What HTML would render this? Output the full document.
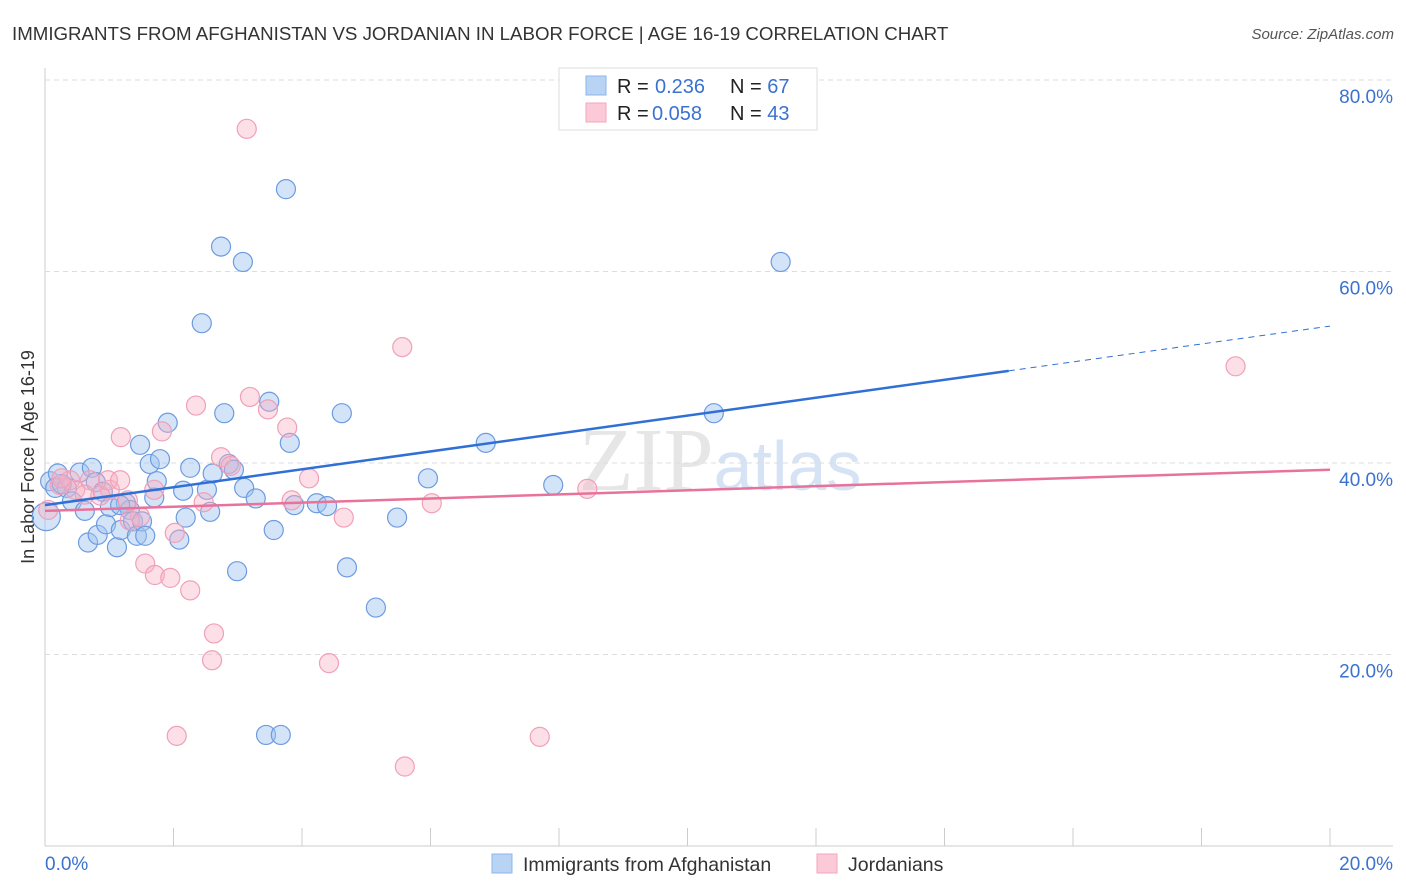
<!DOCTYPE html>
<html><head><meta charset="utf-8"><style>
body{margin:0;background:#fff;font-family:"Liberation Sans",sans-serif}
svg{display:block}
</style></head><body>
<svg id="c" width="1406" height="892">
<text x="12" y="40" font-size="18.7" fill="#333">IMMIGRANTS FROM AFGHANISTAN VS JORDANIAN IN LABOR FORCE | AGE 16-19 CORRELATION CHART</text>
<text x="1394" y="39" font-size="15" fill="#555" font-style="italic" text-anchor="end">Source: ZipAtlas.com</text>
<text x="720" y="490" font-size="90" fill="#e6e6e6" text-anchor="middle" font-family="Liberation Serif,serif">ZIP<tspan fill="#d5e3f5" font-family="Liberation Sans,sans-serif" font-size="70">atlas</tspan></text>
<text transform="translate(34,457) rotate(-90)" font-size="18" fill="#333" text-anchor="middle">In Labor Force | Age 16-19</text>
<g id="grid"></g><g id="marks"></g>
<g>
<rect x="559" y="68" width="258" height="62" fill="#fff" stroke="#ddd"/>
<rect x="586" y="76" width="20" height="19" fill="#b9d3f5" stroke="#8db5ea"/>
<rect x="586" y="103" width="20" height="19" fill="#fbc9d7" stroke="#f3a6bd"/>
<text x="617" y="93" font-size="20" fill="#222">R = <tspan fill="#3b72d0" x="655">0.236</tspan><tspan x="730" fill="#222">N = </tspan><tspan fill="#3b72d0">67</tspan></text>
<text x="617" y="120" font-size="20" fill="#222">R = <tspan fill="#3b72d0" x="652">0.058</tspan><tspan x="730" fill="#222">N = </tspan><tspan fill="#3b72d0">43</tspan></text>
</g>
<g>
<rect x="492" y="854" width="20" height="19" fill="#b9d3f5" stroke="#8db5ea"/>
<text x="523" y="871" font-size="19.5" fill="#333">Immigrants from Afghanistan</text>
<rect x="817" y="854" width="20" height="19" fill="#fbc9d7" stroke="#f3a6bd"/>
<text x="848" y="871" font-size="19.5" fill="#333">Jordanians</text>
</g>
</svg>
<script>
const yTicks=[20,40,60,80];
const xTickLabels=["0.0%","20.0%"];
const blueX=[.08,.2,.16,.34,.42,.54,.62,.67,.73,.79,.82,.9,.95,1.01,1.12,1.18,1.26,1.32,1.37,1.43,1.51,1.56,1.48,1.63,1.7,1.74,1.79,1.91,2.09,2.15,2.19,2.26,2.44,2.52,2.57,2.61,2.74,2.79,2.86,2.94,2.99,3.08,3.1,3.28,3.49,3.56,3.75,3.81,3.88,3.44,3.67,4.23,4.39,4.62,4.7,5.15,5.48,5.96,6.86,7.91,10.41,11.45,.26,1.17];
const blueY=[38.1,38.9,37.4,37.4,36.0,39.0,35.0,31.7,39.5,38.0,32.5,37.0,33.6,35.4,31.2,33.0,35.8,35.1,33.9,32.4,33.9,32.4,41.9,39.9,36.4,38.1,40.4,44.2,32.0,37.1,34.3,39.5,54.6,37.2,34.9,38.9,62.6,45.2,39.9,39.3,28.7,61.0,37.4,36.3,46.4,33.0,68.6,42.1,35.6,11.6,11.6,35.8,35.5,45.2,29.1,24.9,34.3,38.4,42.1,37.7,45.2,61.0,37.8,35.6];
const pinkX=[3.14,5.56,18.53,3.19,2.35,3.47,3.77,1.18,1.82,2.74,2.89,4.11,3.84,4.65,6.02,8.44,1.56,1.71,1.95,2.26,2.63,2.6,4.42,2.05,7.7,5.6,.23,.47,.7,1.01,1.29,1.48,1.7,2.02,2.47,.05,.86,1.32,.39,.98,.62,.26,1.17];
const pinkY=[74.9,52.1,50.1,46.9,46.0,45.6,43.7,42.7,43.3,40.6,39.7,38.4,36.1,34.3,35.8,37.3,29.5,28.3,28.0,26.7,22.2,19.4,19.1,11.5,11.4,8.3,37.7,37.2,38.2,37.2,36.1,34.4,37.2,32.7,35.9,35.1,36.6,34.0,38.2,38.2,36.7,38.4,38.2];
const blueLine=[35.6,54.3], blueSolidEnd=15.0;
const pinkLine=[35.0,39.3];
const bigX=[0.02], bigY=[34.4];

const NS="http://www.w3.org/2000/svg";
const X=v=>45+v/20*1285, Y=v=>846-v/80*766;
function mk(t,a,p){const e=document.createElementNS(NS,t);for(const k in a)e.setAttribute(k,a[k]);p.appendChild(e);return e;}
const g=document.getElementById('grid'), m=document.getElementById('marks');
mk('line',{x1:45,y1:68,x2:45,y2:846,stroke:'#ccc'},g);
mk('line',{x1:45,y1:846,x2:1393,y2:846,stroke:'#ccc'},g);
for(let i=0;i<=10;i++){const l=mk('line',{x1:X(i*2),y1:828,x2:X(i*2),y2:846,stroke:'#ccc'},g);

}
yTicks.forEach(v=>{const l=mk('line',{x1:45,y1:Y(v),x2:1393,y2:Y(v),stroke:'#ddd','stroke-dasharray':'5,4'},g);


const t=mk('text',{x:1393,y:Y(v)+23,'font-size':19,fill:'#3b72d0','text-anchor':'end'},g);t.textContent=v.toFixed(1)+'%';

});
xTickLabels.forEach((s,i)=>{const t=mk('text',{x:i?1393:45,y:870,'font-size':19,fill:'#3b72d0','text-anchor':i?'end':'start'},g);t.textContent=s;

});
blueX.forEach((x,i)=>{const c=mk('circle',{cx:X(x),cy:Y(blueY[i]),r:9.5,fill:'rgba(160,195,240,0.45)',stroke:'#6d9be0','stroke-width':1.2},m);

});
bigX.forEach((x,i)=>{const c=mk('circle',{cx:X(x),cy:Y(bigY[i]),r:14,fill:'rgba(160,195,240,0.45)',stroke:'#6d9be0','stroke-width':1.2},m);

});
pinkX.forEach((x,i)=>{const c=mk('circle',{cx:X(x),cy:Y(pinkY[i]),r:9.5,fill:'rgba(247,175,195,0.4)',stroke:'#f0a0b8','stroke-width':1.2},m);

});
const by=x=>blueLine[0]+(blueLine[1]-blueLine[0])*x/20;
let l=mk('line',{x1:X(0),y1:Y(by(0)),x2:X(blueSolidEnd),y2:Y(by(blueSolidEnd)),stroke:'#2f6fd6','stroke-width':2.5},m);


l=mk('line',{x1:X(blueSolidEnd),y1:Y(by(blueSolidEnd)),x2:X(20),y2:Y(by(20)),stroke:'#2f6fd6','stroke-width':1,'stroke-dasharray':'6,5'},m);


l=mk('line',{x1:X(0),y1:Y(pinkLine[0]),x2:X(20),y2:Y(pinkLine[1]),stroke:'#e8729a','stroke-width':2.5},m);


</script>
</body></html>
